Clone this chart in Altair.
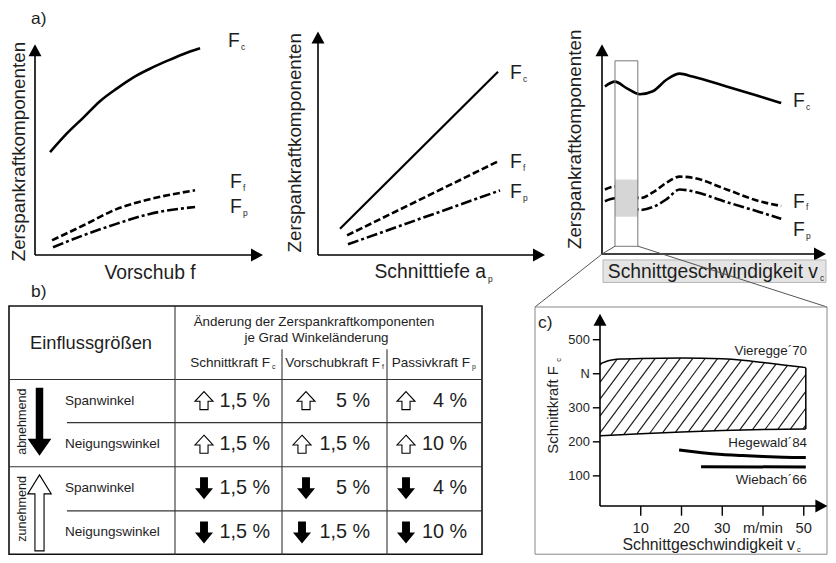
import altair as alt
import pandas as pd
import numpy as np

FONT = "Liberation Sans"
TXT = "#1e1e1e"

# ---------------- data ----------------
# a1: Zerspankraftkomponenten über Vorschub f (relative units 0..10)
a1_x_fc = [0.66, 1.40, 2.11, 2.85, 3.60, 4.30, 5.04, 5.79, 6.49, 7.24]
a1_fc = [4.88, 5.77, 6.51, 7.30, 7.91, 8.42, 8.84, 9.21, 9.53, 9.81]
a1_x_ff = [0.75, 2.11, 3.60, 5.04, 7.02]
a1_ff = [0.70, 1.40, 2.19, 2.65, 3.07]
a1_x_fp = [0.79, 2.11, 3.60, 5.04, 7.02]
a1_fp = [0.37, 0.93, 1.49, 1.95, 2.28]

# a2: über Schnitttiefe ap
a2_x_fc = [0.97, 7.93]
a2_fc = [1.18, 8.20]
a2_x_ff = [1.28, 7.89]
a2_ff = [0.88, 4.17]
a2_x_fp = [1.32, 8.02]
a2_fp = [0.48, 2.89]

# a3: über Schnittgeschwindigkeit vc
a3_x = [0.13, 0.58, 1.11, 1.69, 2.27, 2.89, 3.47, 4.04, 5.56, 7.02, 8.0]
a3_fc = [7.99, 8.22, 7.90, 7.62, 7.76, 8.32, 8.60, 8.46, 7.99, 7.52, 7.20]
a3_ff = [3.08, 3.22, 2.99, 2.66, 2.94, 3.41, 3.69, 3.64, 3.08, 2.52, 2.29]
a3_fp = [2.52, 2.66, 2.43, 2.10, 2.24, 2.62, 3.08, 2.99, 2.48, 2.01, 1.68]

# b: table
groups = ["abnehmend", "zunehmend"]
params = ["Spanwinkel", "Neigungswinkel", "Spanwinkel", "Neigungswinkel"]
col_names = ["Schnittkraft F", "Vorschubkraft F", "Passivkraft F"]
col_subs = ["c", "f", "p"]
cell_values = [["1,5 %", "5 %", "4 %"],
               ["1,5 %", "1,5 %", "10 %"],
               ["1,5 %", "5 %", "4 %"],
               ["1,5 %", "1,5 %", "10 %"]]
row_dir = ["up", "up", "down", "down"]

# c: Schnittkraft Fc über vc (m/min, N)
vier_x_top = [0, 2, 5, 10, 20, 30, 35, 40, 45, 50.5]
vier_top = [429, 438, 443, 445, 446, 444, 440, 433, 426, 418]
vier_x_bot = [0, 10, 20, 30, 40, 50.5]
vier_bot = [218, 224, 229, 233, 236, 238]
hege_x = [19.4, 22, 25, 30, 35, 40, 45, 50.5]
hege_y = [176, 172, 168, 163, 160, 157, 155, 154]
wieb_x = [24.8, 50.5]
wieb_y = [127, 126]
c_xticks = [10, 20, 30, 40, 50]
c_xlabels = ["10", "20", "30", "m/min", "50"]
c_yticks = [100, 200, 300, 400, 500]
c_ylabels = ["100", "200", "300", "N", "500"]

# ---------------- layout ----------------
W, H = 820, 547
SY = 547.0 / 558.0
FS = 0.99


def cx(x):
    return x - 8.0


def cy(y):
    return (y - 5.0) * SY


def P(xd, xr, yd, yr):
    return dict(
        xs=alt.Scale(domain=xd, range=[cx(xr[0]), cx(xr[1])], nice=False, zero=False),
        ys=alt.Scale(domain=yd, range=[cy(yr[0]), cy(yr[1])], nice=False, zero=False),
    )


FIG = P([0, 836], [0, 836], [0, 563], [0, 563])
PA1 = P([0, 10], [35, 263], [0, 10], [257, 42])
PA2 = P([0, 10], [318, 545], [0, 10], [257, 29])
PA3 = P([0, 10], [602, 826], [0, 10], [256, 42])
PC = P([0, 55.8], [600, 827.4], [11.5, 576], [513, 317])

layers = []


def XY(p):
    return dict(x=alt.X("x:Q", scale=p["xs"], axis=None),
                y=alt.Y("y:Q", scale=p["ys"], axis=None))


def add_line(p, xs, ys, width=2.6, dash=None, color="black", interp="monotone"):
    df = pd.DataFrame({"x": xs, "y": ys})
    kw = dict(color=color, strokeWidth=width, interpolate=interp, strokeCap="butt", strokeJoin="round")
    if dash:
        kw["strokeDash"] = dash
    layers.append(alt.Chart(df).mark_line(**kw).encode(**XY(p)))


def add_rules(p, x, y, x2, y2, color="black", width=1.0):
    df = pd.DataFrame(dict(x=x, y=y, x2=x2, y2=y2))
    layers.append(alt.Chart(df).mark_rule(color=color, strokeWidth=width, strokeCap="butt").encode(
        **XY(p), x2=alt.X2("x2"), y2=alt.Y2("y2")))


def add_rect(p, x, y, x2, y2, fill="white", fill_op=0.0, stroke=None, width=1.0):
    df = pd.DataFrame(dict(x=[x], y=[y], x2=[x2], y2=[y2]))
    kw = dict(fill=fill, fillOpacity=fill_op, strokeWidth=width)
    if stroke:
        kw["stroke"] = stroke
    layers.append(alt.Chart(df).mark_rect(**kw).encode(**XY(p), x2=alt.X2("x2"), y2=alt.Y2("y2")))


def add_text(p, xs, ys, texts, size, align="center", baseline="middle", angle=None, color=TXT):
    df = pd.DataFrame(dict(x=xs, y=ys, t=texts))
    kw = dict(font=FONT, fontSize=size * FS, align=align, baseline=baseline, color=color)
    if angle is not None:
        kw["angle"] = angle
    layers.append(alt.Chart(df).mark_text(**kw).encode(**XY(p), text="t:N"))


def add_shape(p, xs, ys, path, size_px, fill="black", stroke=None, sw=1.0):
    df = pd.DataFrame(dict(x=xs, y=ys))
    kw = dict(shape=path, size=size_px ** 2, filled=True, fill=fill, opacity=1)
    if stroke:
        kw["stroke"] = stroke
        kw["strokeWidth"] = sw
    else:
        kw["strokeWidth"] = 0
    layers.append(alt.Chart(df).mark_point(**kw).encode(**XY(p)))


UP_HEAD = "M0,0L1.08,2L-1.08,2Z"
RIGHT_HEAD = "M0,0L-2,1.08L-2,-1.08Z"
CELL_UP = "M0,-1L1,0.08L0.45,0.08L0.45,1L-0.45,1L-0.45,0.08L-1,0.08Z"
CELL_DOWN = "M-0.36,-1L0.36,-1L0.36,0L0.82,0L0,1L-0.82,0L-0.36,0Z"
BIG_DOWN = "M-0.11,-1L0.11,-1L0.11,0.5L0.35,0.5L0,1L-0.35,0.5L-0.11,0.5Z"
BIG_UP = "M0,-1L0.31,-0.5L0.12,-0.5L0.12,1L-0.12,1L-0.12,-0.5L-0.31,-0.5Z"


def axes_a(p, xtip_units=10, ytip_units=10):
    add_rules(p, [0, 0], [0, 0], [xtip_units - 0.3, 0], [0, ytip_units - 0.3], width=1.6)
    add_shape(p, [0], [ytip_units], UP_HEAD, 12)
    add_shape(p, [xtip_units], [0], RIGHT_HEAD, 12)


# ---------- panel a1 ----------
add_line(PA1, a1_x_fc, a1_fc, width=2.6)
add_line(PA1, a1_x_ff, a1_ff, width=2.6, dash=[7, 3])
add_line(PA1, a1_x_fp, a1_fp, width=2.6, dash=[11, 3, 3, 3])
axes_a(PA1)

# ---------- panel a2 ----------
add_line(PA2, a2_x_fc, a2_fc, width=2.2, interp="linear")
add_line(PA2, a2_x_ff, a2_ff, width=2.6, dash=[7, 3], interp="linear")
add_line(PA2, a2_x_fp, a2_fp, width=2.6, dash=[11, 3, 3, 3], interp="linear")
axes_a(PA2)

# ---------- panel a3 ----------
add_line(PA3, a3_x, a3_fc, width=2.6)
add_line(PA3, a3_x, a3_ff, width=2.6, dash=[7, 3])
add_line(PA3, a3_x, a3_fp, width=2.6, dash=[11, 3, 3, 3])
add_rect(PA3, 0.58, 3.55, 1.60, 1.78, fill="#d6d6d6", fill_op=1.0)
add_rect(PA3, 0.58, 9.21, 1.60, 0.37, stroke="#777777", width=1.0)
axes_a(PA3)

# F labels with subscripts (figure coordinates)
lab_x = [228, 230, 230, 510, 510, 510, 793, 793, 793]
lab_y = [39, 182.5, 208, 71, 162, 193, 100, 202.5, 231.5]
lab_s = ["c", "f", "p"] * 3
add_text(FIG, lab_x, lab_y, ["F"] * 9, 19.5, align="left")
add_text(FIG, [v + 13 for v in lab_x], [v + 6 for v in lab_y], lab_s, 8.5, align="left")

# axis titles of a
add_text(FIG, [18.5, 295, 575], [151.5, 142.5, 139], ["Zerspankraftkomponenten"] * 3, 19.0, angle=270)
add_text(FIG, [150], [275], ["Vorschub f"], 19.5)
add_text(FIG, [486], [274], ["Schnitttiefe a"], 19.5, align="right")
add_text(FIG, [488], [281], ["p"], 8.5, align="left")
add_rect(FIG, 603, 262, 826, 285, fill="#e4e4e4", fill_op=1.0, stroke="#a8a8a8", width=0.8)
add_text(FIG, [818], [274], ["Schnittgeschwindigkeit v"], 19.5, align="right")
add_text(FIG, [820], [280], ["c"], 8.5, align="left")

# connectors a3 -> c
add_rules(FIG, [602, 602, 638], [256, 256, 248], [615, 535, 827], [248, 310, 310], color="#555555", width=1.0)

# panel labels
add_text(FIG, [31, 31, 538], [16, 295, 326], ["a)", "b)", "c)"], 17.5, align="left")

# ---------- table b ----------
XE = [9, 175, 282, 387, 482]
YE = [309, 384, 428, 473, 518, 563]
add_rect(FIG, XE[0], YE[0], XE[-1], YE[-1] - 0.8, stroke="#111111", width=1.6)
add_rules(FIG,
          [175, 282, 387, XE[0], XE[0], 67, 67],
          [309, 353, 353, 384, 473, 428, 518],
          [175, 282, 387, 482, 482, 482, 482],
          [563, 563, 563, 384, 473, 428, 518],
          color="#333333", width=1.1)
add_text(FIG, [91], [348], ["Einflussgrößen"], 18.5)
add_text(FIG, [314, 316.5], [325, 342], ["Änderung der Zerspankraftkomponenten", "je Grad Winkeländerung"], 13.5)
sub_end = [270, 380, 470]
add_text(FIG, sub_end, [367] * 3, col_names, 13.7, align="right")
add_text(FIG, [v + 2 for v in sub_end], [371] * 3, col_subs, 7, align="left")

row_c = [(YE[i + 1] + YE[i + 2]) / 2 - 0.5 for i in range(4)]
add_text(FIG, [65] * 4, row_c, params, 13.7, align="left")
text_end = [270, 370, 467]
arrow_x = [204, 306, 406]
tx, ty, tt = [], [], []
ux, uy, dxs, dys = [], [], [], []
for r in range(4):
    for c in range(3):
        tx.append(text_end[c])
        ty.append(row_c[r])
        tt.append(cell_values[r][c])
        ax = arrow_x[c] - (4 if (c == 1 and len(cell_values[r][c]) > 3) else 0)
        if row_dir[r] == "up":
            ux.append(ax); uy.append(row_c[r])
        else:
            dxs.append(ax); dys.append(row_c[r])
add_text(FIG, tx, ty, tt, 20, align="right")
add_shape(FIG, ux, uy, CELL_UP, 18, fill="white", stroke="black", sw=1.1)
add_shape(FIG, dxs, dys, CELL_DOWN, 22, fill="black")

add_text(FIG, [22, 22], [427, 516], groups, 12.7, angle=270)
add_shape(FIG, [39.5], [427], BIG_DOWN, 68, fill="black")
add_shape(FIG, [39.5], [520], BIG_UP, 76, fill="white", stroke="black", sw=1.1)

# ---------- panel c ----------
add_rect(FIG, 535, 310, 827, 562.2, stroke="#888888", width=1.0)

# hatch of Vieregge band
kx, ky = 4.075, 0.347
ang = np.deg2rad(54)
slope = np.tan(ang) * kx / ky
spacing = 12.5 / kx
grid = np.arange(0, 50.5001, 0.01)
top_i = np.interp(grid, vier_x_top, vier_top)
bot_i = np.interp(grid, vier_x_bot, vier_bot)
hx, hy, hx2, hy2 = [], [], [], []
for c0 in np.arange(-60, 60, spacing):
    yy = slope * (grid - c0)
    inside = (yy >= bot_i) & (yy <= top_i)
    if inside.sum() > 2:
        idx = np.where(inside)[0]
        hx.append(grid[idx[0]]); hy.append(yy[idx[0]])
        hx2.append(grid[idx[-1]]); hy2.append(yy[idx[-1]])
add_rules(PC, hx, hy, hx2, hy2, color="#1a1a1a", width=1.15)
add_line(PC, vier_x_top, vier_top, width=1.5)
add_line(PC, vier_x_bot, vier_bot, width=1.5)
add_rules(PC, [50.5], [vier_bot[-1]], [50.5], [vier_top[-1]], width=1.5)
add_line(PC, hege_x, hege_y, width=3)
add_line(PC, wieb_x, wieb_y, width=3, interp="linear")

# c axes
add_rules(PC, [0, 0], [11.5, 11.5], [55.0, 0], [11.5, 560], width=1.6)
add_shape(PC, [0], [576], UP_HEAD, 12)
add_shape(PC, [55.8], [11.5], RIGHT_HEAD, 12)
add_rules(PC, [-1.75] * 5, c_yticks, [0] * 5, c_yticks, width=1.4)
add_rules(PC, c_xticks, [11.5] * 5, c_xticks, [-17] * 5, width=1.4)
add_text(PC, [-2.5] * 5, c_yticks, c_ylabels, 13, align="right")
add_text(PC, c_xticks, [-56.5] * 5, c_xlabels, 14.8)
add_text(PC, [50.8, 50.8, 50.8], [467, 196, 86.5], ["Vieregge´70", "Hegewald´84", "Wiebach´66"], 13.5, align="right")

add_text(FIG, [795], [553], ["Schnittgeschwindigkeit v"], 16, align="right")
add_text(FIG, [797], [558], ["c"], 7.5, align="left")
add_text(FIG, [554], [415], ["Schnittkraft F"], 15, angle=270)
add_text(FIG, [559], [364], ["c"], 7.5, angle=270)

chart = alt.layer(*layers).resolve_scale(x="independent", y="independent").properties(
    width=W, height=H, padding=0, autosize=alt.AutoSizeParams(type="none"), background="white"
).configure_view(stroke=None)

chart.save("out.html", embed_options={"renderer": "svg", "actions": False})
